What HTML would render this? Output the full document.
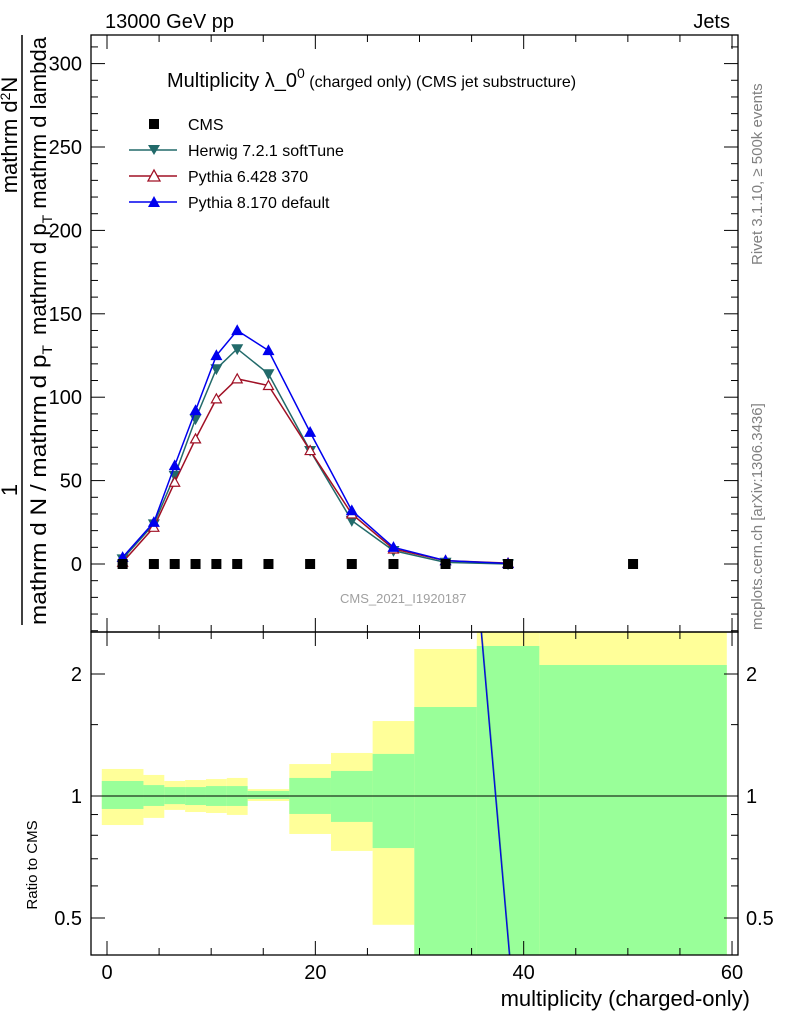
<!DOCTYPE html>
<html><head><meta charset="utf-8"><style>
body{margin:0;background:#fff}
svg{display:block;font-family:"Liberation Sans",sans-serif}
</style></head><body>
<svg id="c" width="786" height="1024" viewBox="0 0 786 1024">
<defs>
<clipPath id="cu"><rect x="91" y="35" width="647" height="597"/></clipPath>
<clipPath id="cr"><rect x="91" y="632" width="647" height="323"/></clipPath>
</defs>
<g id="bands" clip-path="url(#cr)"></g>
<g id="ratioLines" clip-path="url(#cr)"></g>
<g id="upper" clip-path="url(#cu)"></g>
<g id="axes"></g>
<text x="105" y="28" font-size="20">13000 GeV pp</text>
<text x="730" y="28" font-size="20" text-anchor="end">Jets</text>
<text x="167" y="87" font-size="20">Multiplicity λ_0<tspan dy="-9" font-size="14">0</tspan><tspan dy="9" font-size="16"> (charged only) (CMS jet substructure)</tspan></text>
<text x="340" y="603" font-size="13" fill="#a0a0a0">CMS_2021_I1920187</text>
<text transform="translate(762,265) rotate(-90)" font-size="15" fill="#808080">Rivet 3.1.10, ≥ 500k events</text>
<text transform="translate(762,630) rotate(-90)" font-size="15" fill="#808080">mcplots.cern.ch [arXiv:1306.3436]</text>
<g font-size="22">
<text transform="translate(17,135) rotate(-90)" text-anchor="middle">mathrm d<tspan dy="-7" font-size="14">2</tspan><tspan dy="7">N</tspan></text>
<text transform="translate(17,490) rotate(-90)" text-anchor="middle">1</text>
<line x1="22" y1="35" x2="22" y2="625" stroke="#000" stroke-width="1.5"/>
<text transform="translate(46,625) rotate(-90)" textLength="280" lengthAdjust="spacingAndGlyphs">mathrm d N / mathrm d p<tspan dy="6" font-size="14">T</tspan></text>
<text transform="translate(46,335) rotate(-90)" textLength="298" lengthAdjust="spacingAndGlyphs">mathrm d p<tspan dy="6" font-size="14">T</tspan><tspan dy="-6"> mathrm d lambda</tspan></text>
</g>
<text transform="translate(37,865) rotate(-90)" font-size="15" text-anchor="middle">Ratio to CMS</text>
<text x="750" y="1006" font-size="22" text-anchor="end">multiplicity (charged-only)</text>
<g font-size="16">
<rect x="149" y="119" width="10" height="10" fill="#000"/>
<text x="188" y="130">CMS</text>
<line x1="129" y1="150" x2="177" y2="150" stroke="#226a6a" stroke-width="1.5"/>
<path d="M148,145 L160,145 L154,155Z" fill="#226a6a"/>
<text x="188" y="156">Herwig 7.2.1 softTune</text>
<line x1="129" y1="176" x2="177" y2="176" stroke="#a01025" stroke-width="1.5"/>
<path d="M148,181 L160,181 L154,170Z" fill="#fff" stroke="#a01025" stroke-width="1.3"/>
<text x="188" y="182">Pythia 6.428 370</text>
<line x1="129" y1="202" x2="177" y2="202" stroke="#0000ee" stroke-width="1.5"/>
<path d="M148,207 L160,207 L154,196Z" fill="#0000ee"/>
<text x="188" y="208">Pythia 8.170 default</text>
</g>
</svg>
<script>
const binEdges=[-0.5,3.5,5.5,7.5,9.5,11.5,13.5,17.5,21.5,25.5,29.5,35.5,41.5,59.5];
const binCenters=[1.5,4.5,6.5,8.5,10.5,12.5,15.5,19.5,23.5,27.5,32.5,38.5,50.5];
const cmsValues=[0,0,0,0,0,0,0,0,0,0,0,0,0];
const herwigValues=[3,24,53,87,117,129,114,68,26,8,1,0];
const pythia6Values=[1,22,49,75,99,111,107,68,30,9,2,0.5];
const pythia8Values=[4,25,59,92,125,140,128,79,32,10,2,0.3];
const yellowHigh=[1.166,1.127,1.089,1.095,1.101,1.108,1.040,1.199,1.277,1.531,2.305,3,3];
const yellowLow=[0.848,0.883,0.924,0.913,0.908,0.898,0.972,0.806,0.732,0.481,0.3,0.3,0.3];
const greenHigh=[1.089,1.064,1.052,1.052,1.058,1.058,1.029,1.108,1.153,1.270,1.658,2.345,2.105];
const greenLow=[0.929,0.945,0.955,0.950,0.945,0.945,0.983,0.903,0.863,0.744,0.3,0.3,0.3];
const ratioLineX=[35.9,38.7];
const ratioLineY=[2.6,0.39];
const yTicks=[0,50,100,150,200,250,300];
const xTicks=[0,20,40,60];
const rTicks=[0.5,1,2];

const NS="http://www.w3.org/2000/svg";
const X=v=>107+v*10.417;
const Y=v=>564-v*1.668;
const R=v=>796-122*Math.log2(v);
function mk(p,t,a){const e=document.createElementNS(NS,t);for(const k in a)e.setAttribute(k,a[k]);p.appendChild(e);return e;}
const bands=document.getElementById('bands'),up=document.getElementById('upper'),ax=document.getElementById('axes'),rl=document.getElementById('ratioLines');

for(let i=0;i<binCenters.length;i++){
 const x1=X(binEdges[i]),x2=X(binEdges[i+1]);
 const y=mk(bands,'rect',{x:x1,y:R(yellowHigh[i]),width:x2-x1,height:R(yellowLow[i])-R(yellowHigh[i]),fill:'#ffff99'});
 
 
}
for(let i=0;i<binCenters.length;i++){
 const x1=X(binEdges[i]),x2=X(binEdges[i+1]);
 const g=mk(bands,'rect',{x:x1,y:R(greenHigh[i]),width:x2-x1,height:R(greenLow[i])-R(greenHigh[i]),fill:'#99ff99'});
 
 
}
mk(rl,'line',{x1:91,x2:738,y1:R(1),y2:R(1),stroke:'#000','stroke-width':1});
const rline=mk(rl,'polyline',{points:ratioLineX.map((v,i)=>X(v)+','+R(ratioLineY[i])).join(' '),fill:'none',stroke:'#0000ee','stroke-width':1.5});


mk(rl,'polyline',{points:ratioLineX.map((v,i)=>X(v)+0.6+','+R(ratioLineY[i])).join(' '),fill:'none',stroke:'#226a6a','stroke-width':0.8,opacity:0.6});

function series(vals,col,shape,name){
 const pl=mk(up,'polyline',{points:vals.map((v,i)=>X(binCenters[i])+','+Y(v)).join(' '),fill:'none',stroke:col,'stroke-width':1.5});
 
 
 vals.forEach((v,i)=>{
  const cx=X(binCenters[i]),cy=Y(v);let d;
  if(shape==='down')d=`M${cx-5},${cy-4} L${cx+5},${cy-4} L${cx},${cy+5}Z`;
  else d=`M${cx-5},${cy+4} L${cx+5},${cy+4} L${cx},${cy-5}Z`;
  const m=mk(up,'path',{d:d,fill:shape==='open'?'#fff':col,stroke:col,'stroke-width':1.2});
  
  
 });
}
series(herwigValues,'#226a6a','down','herwig');
series(pythia6Values,'#a01025','open','pythia6');
series(pythia8Values,'#0000ee','up','pythia8');
cmsValues.forEach((v,i)=>{
 const m=mk(up,'rect',{x:X(binCenters[i])-5,y:Y(v)-5,width:10,height:10,fill:'#000'});
 
 
});

mk(ax,'rect',{x:91,y:35,width:647,height:597,fill:'none',stroke:'#000','stroke-width':1.3});
mk(ax,'rect',{x:91,y:632,width:647,height:323,fill:'none',stroke:'#000','stroke-width':1.3});
for(let v=-40;v<=310;v+=10){const y=Y(v);if(y<35||y>632)continue;const L=v%50===0?14:7;
 mk(ax,'line',{x1:91,x2:91+L,y1:y,y2:y,stroke:'#000'});mk(ax,'line',{x1:738-L,x2:738,y1:y,y2:y,stroke:'#000'});}
yTicks.forEach(v=>{const t=mk(ax,'text',{x:82,y:Y(v)+7,'font-size':20,'text-anchor':'end'});t.textContent=v;
 
 });
for(let v=0;v<=60;v+=5){const x=X(v);const L=v%20===0?14:7;
 mk(ax,'line',{x1:x,x2:x,y1:35,y2:35+L,stroke:'#000'});mk(ax,'line',{x1:x,x2:x,y1:632-L,y2:632,stroke:'#000'});
 mk(ax,'line',{x1:x,x2:x,y1:955-L,y2:955,stroke:'#000'});mk(ax,'line',{x1:x,x2:x,y1:632,y2:632+L,stroke:'#000'});}
xTicks.forEach(v=>{const t=mk(ax,'text',{x:X(v),y:979,'font-size':20,'text-anchor':'middle'});t.textContent=v;
 
 });
[0.5,0.6,0.7,0.8,0.9,1,1.5,2].forEach(v=>{const y=R(v);const L=rTicks.includes(v)?14:7;
 mk(ax,'line',{x1:91,x2:91+L,y1:y,y2:y,stroke:'#000'});mk(ax,'line',{x1:738-L,x2:738,y1:y,y2:y,stroke:'#000'});});
rTicks.forEach(v=>{
 const t=mk(ax,'text',{x:82,y:R(v)+7,'font-size':20,'text-anchor':'end'});t.textContent=v;
 
 
 const t2=mk(ax,'text',{x:746,y:R(v)+7,'font-size':20});t2.textContent=v;
 
 
});
</script>
</body></html>
